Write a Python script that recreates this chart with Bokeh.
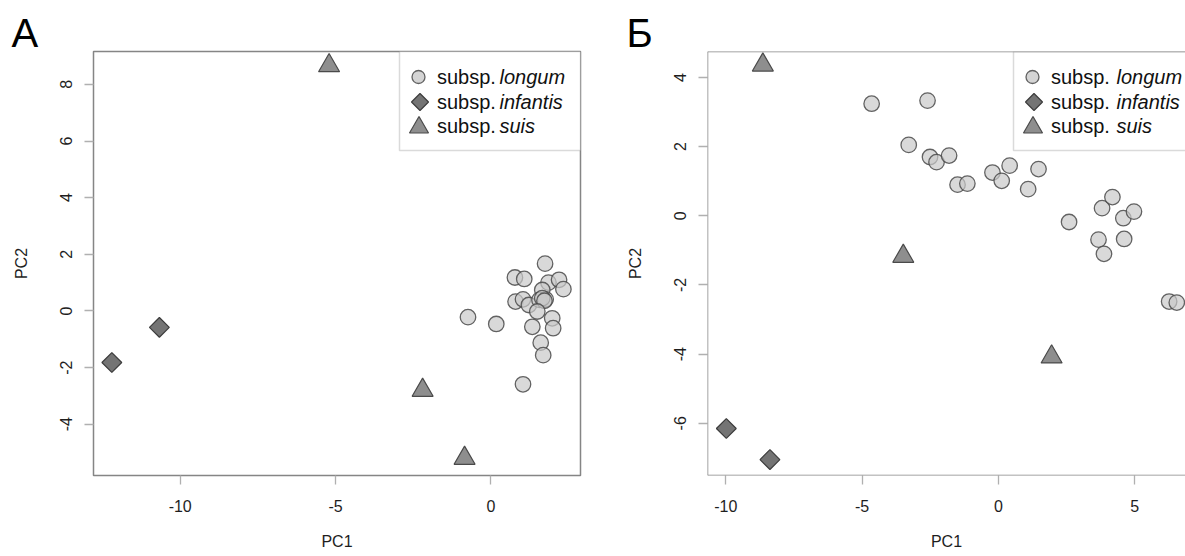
import math
from bokeh.plotting import figure
from bokeh.models import FixedTicker, Label, BoxAnnotation, Span, Range1d
from bokeh.layouts import row
from bokeh.embed import file_html
from bokeh.resources import INLINE

# ---------------- data ----------------
# Panel A
a_longum_x = [1.74, 0.77, 1.07, 1.85, 2.19, 2.33, 1.65, 0.79, 1.03, 1.22, 1.56, 1.76,
              1.65, 1.72, 1.49, -0.74, 0.17, 1.97, 1.33, 2.00, 1.60, 1.68, 1.03]
a_longum_y = [1.67, 1.18, 1.13, 1.00, 1.10, 0.77, 0.74, 0.33, 0.41, 0.21, 0.39, 0.41,
              0.45, 0.36, -0.02, -0.22, -0.46, -0.26, -0.56, -0.61, -1.12, -1.56, -2.59]
a_infantis_x = [-12.2, -10.67]
a_infantis_y = [-1.82, -0.58]
a_suis_x = [-5.21, -2.2, -0.85]
a_suis_y = [8.66, -2.8, -5.2]

# Panel Б
b_longum_x = [-4.65, -2.60, -3.29, -2.51, -2.27, -1.81, -1.50, -1.14, -0.22, 0.12, 0.41, 1.09,
              1.47, 2.59, 3.80, 4.18, 4.58, 4.97, 3.67, 3.87, 4.61, 6.26, 6.54]
b_longum_y = [3.24, 3.33, 2.05, 1.70, 1.55, 1.74, 0.90, 0.93, 1.25, 1.01, 1.45, 0.77,
              1.35, -0.18, 0.22, 0.54, -0.07, 0.12, -0.69, -1.10, -0.67, -2.48, -2.51]
b_infantis_x = [-9.98, -8.38]
b_infantis_y = [-6.15, -7.05]
b_suis_x = [-8.64, -3.49, 1.95]
b_suis_y = [4.36, -1.17, -4.08]

a_xticks = [-10, -5, 0]
a_xlabels = ["-10", "-5", "0"]
a_yticks = [-4, -2, 0, 2, 4, 6, 8]
a_ylabels = ["-4", "-2", "0", "2", "4", "6", "8"]
b_xticks = [-10, -5, 0, 5]
b_xlabels = ["-10", "-5", "0", "5"]
b_yticks = [-6, -4, -2, 0, 2, 4]
b_ylabels = ["-6", "-4", "-2", "0", "2", "4"]

groups = ["subsp.", "subsp.", "subsp."]
species = ["longum", "infantis", "suis"]

FONT = "Liberation Sans"
TXT = "#1e1e1e"
FRAME = "#858585"

CIRC = dict(marker="circle", size=15.5, fill_color="#c9c9c9", fill_alpha=0.7,
            line_color="#4a4a4a", line_alpha=0.85, line_width=1.3)
DIAM = dict(marker="square", angle=math.pi / 4, size=14, fill_color="#747474",
            line_color="#3c3c3c", line_width=1.2)
TRI = dict(marker="triangle", size=21, fill_color="#8e8e8e",
           line_color="#4a4a4a", line_width=1.2)

TOP = 51       # frame top (page px)
BOTTOM = 81    # space below the frame
HEIGHT = 556


def panel(xr, yr, width, bl, br, page_left, xticks, xlabels, yticks, ylabels,
          lx, ly, ix, iy, sx, sy, letter, letter_px, leg_left, leg_mark, leg_text,
          leg_ital, clip_right):
    fw = width - bl - br
    fh = HEIGHT - TOP - BOTTOM
    p = figure(width=width, height=HEIGHT, x_range=Range1d(*xr), y_range=Range1d(*yr),
               min_border_left=bl, min_border_right=br, min_border_top=TOP,
               min_border_bottom=BOTTOM, output_backend="svg", toolbar_location=None,
               background_fill_color="white", border_fill_color="white")
    p.xgrid.visible = False
    p.ygrid.visible = False
    if clip_right:
        p.outline_line_color = None
    else:
        p.outline_line_color = FRAME
        p.outline_line_width = 1.5

    # panel letter as the title, pushed left of the frame
    p.title.text = letter
    p.title.text_font = FONT
    p.title.text_font_size = "40px"
    p.title.text_font_style = "normal"
    p.title.text_color = "#000000"
    p.title.align = "left"
    p.title.offset = letter_px - (page_left + bl)
    p.title.standoff = -6

    fl = page_left + bl

    def X(px):
        return xr[0] + (px - fl) / fw * (xr[1] - xr[0])

    def Y(py):
        return yr[1] - (py - TOP) / fh * (yr[1] - yr[0])

    for ax, ticks, labs in ((p.xaxis, xticks, xlabels), (p.yaxis, yticks, ylabels)):
        ax.ticker = FixedTicker(ticks=ticks)
        ax.major_label_overrides = {float(t): l for t, l in zip(ticks, labs)}
        ax.axis_line_color = None
        ax.major_tick_line_color = "#b0b0b0"
        ax.major_tick_line_width = 1.3
        ax.major_tick_out = 9
        ax.major_tick_in = 0
        ax.minor_tick_out = 0
        ax.minor_tick_in = 0
        ax.major_label_text_font = FONT
        ax.major_label_text_font_size = "16px"
        ax.major_label_text_color = TXT
        ax.axis_label_text_font = FONT
        ax.axis_label_text_font_size = "16px"
        ax.axis_label_text_font_style = "normal"
        ax.axis_label_text_color = TXT
    p.xaxis.axis_label = "PC1"
    p.yaxis.axis_label = "PC2"
    p.xaxis.major_label_standoff = 15
    p.xaxis.axis_label_standoff = 18
    p.yaxis.major_label_orientation = "vertical"
    p.yaxis.major_label_standoff = 12
    p.yaxis.axis_label_standoff = 28

    if clip_right:
        for loc, dim in ((yr[0], "width"), (yr[1], "width"), (xr[0], "height")):
            p.add_layout(Span(location=loc, dimension=dim, line_color=FRAME, line_width=1.5))

    # data
    p.scatter(lx, ly, **CIRC)
    p.scatter(ix, iy, **DIAM)
    p.scatter(sx, sy, **TRI)

    # legend box
    right = xr[1] if not clip_right else X(fl + fw + 120)
    p.add_layout(BoxAnnotation(left=X(leg_left), right=right, top=yr[1], bottom=Y(150),
                               fill_color="white", fill_alpha=1.0, line_color=FRAME,
                               line_width=1.5, level="underlay"))
    rows_y = [76.5, 101.5, 125.5]
    mk = [dict(CIRC, size=13, fill_alpha=0.8), dict(DIAM, size=12), dict(TRI, size=19)]
    mx = [leg_mark, leg_mark + 1.5, leg_mark + 0.5]
    for k in range(3):
        p.scatter([X(mx[k])], [Y(rows_y[k] + (1.5 if k == 2 else 0))], **mk[k])
        p.add_layout(Label(x=X(leg_text), y=Y(rows_y[k]), text=groups[k],
                           text_font=FONT, text_font_size="20px", text_color="#111111",
                           text_baseline="middle", text_align="left"))
        p.add_layout(Label(x=X(leg_ital), y=Y(rows_y[k]), text=species[k],
                           text_font=FONT, text_font_size="20px", text_font_style="italic",
                           text_color="#111111", text_baseline="middle", text_align="left"))
    return p


pA = panel((-12.79, 2.88), (-5.81, 9.16), 600, 93, 20, 0,
           a_xticks, a_xlabels, a_yticks, a_ylabels,
           a_longum_x, a_longum_y, a_infantis_x, a_infantis_y, a_suis_x, a_suis_y,
           "A", 11, 399, 418, 436.5, 499, False)
pB = panel((-10.67, 6.86), (-7.51, 4.75), 585, 107, 0, 600,
           b_xticks, b_xlabels, b_yticks, b_ylabels,
           b_longum_x, b_longum_y, b_infantis_x, b_infantis_y, b_suis_x, b_suis_y,
           "Б", 626, 1013, 1032, 1050.5, 1116, True)

layout = row(pA, pB)
open("out.html", "w").write(file_html(layout, INLINE))
